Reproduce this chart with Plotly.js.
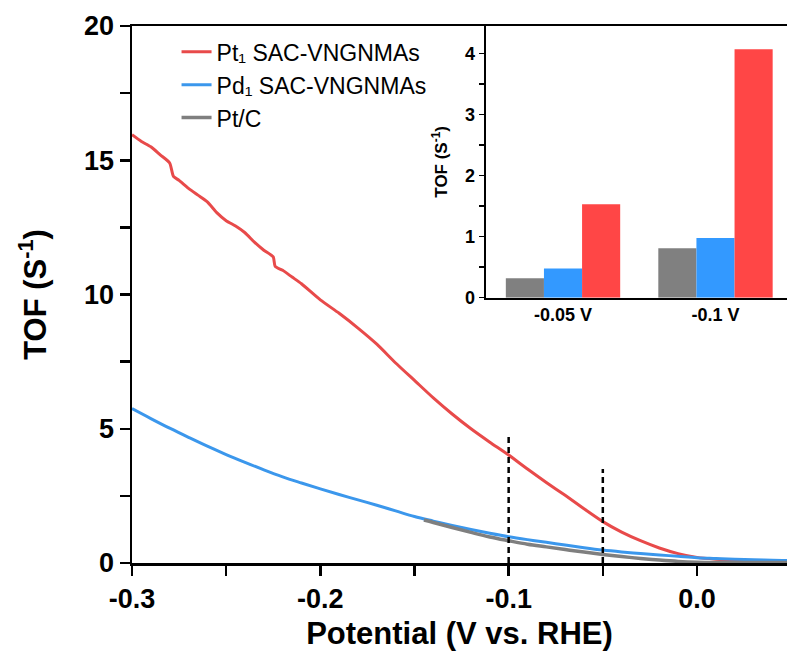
<!DOCTYPE html>
<html>
<head>
<meta charset="utf-8">
<script src="https://cdn.plot.ly/plotly-3.0.1.min.js"></script>
<style>html,body{margin:0;padding:0;background:#fff;}#chart{width:787px;height:657px;}</style>
</head>
<body>
<div id="chart"></div>
<script>
// ---- Data ----
const seriesNames = ["Pt\u2081 SAC-VNGNMAs", "Pd\u2081 SAC-VNGNMAs", "Pt/C"];

const ptSacV = [-0.300,-0.295,-0.290,-0.285,-0.280,-0.278,-0.275,-0.270,-0.265,-0.260,-0.255,-0.250,-0.245,-0.240,-0.235,-0.230,-0.225,-0.224,-0.220,-0.215,-0.210,-0.200,-0.190,-0.180,-0.170,-0.160,-0.150,-0.140,-0.130,-0.120,-0.110,-0.100,-0.090,-0.080,-0.070,-0.060,-0.050,-0.040,-0.030,-0.020,-0.010,0.000,0.010,0.020,0.030,0.040,0.050];
const ptSacTOF = [15.95,15.70,15.50,15.20,14.90,14.40,14.25,13.95,13.70,13.45,13.05,12.75,12.55,12.30,11.95,11.65,11.40,11.05,10.90,10.65,10.40,9.80,9.30,8.75,8.15,7.45,6.80,6.15,5.55,5.00,4.50,4.02,3.50,3.00,2.52,2.02,1.54,1.15,0.83,0.56,0.35,0.21,0.14,0.10,0.08,0.06,0.05];

const pdSacV = [-0.30,-0.29,-0.28,-0.27,-0.26,-0.25,-0.24,-0.23,-0.22,-0.21,-0.20,-0.19,-0.18,-0.17,-0.16,-0.15,-0.14,-0.13,-0.12,-0.11,-0.10,-0.09,-0.08,-0.07,-0.06,-0.05,-0.04,-0.03,-0.02,-0.01,0.00,0.01,0.02,0.03,0.04,0.05];
const pdSacTOF = [5.75,5.38,5.02,4.68,4.35,4.04,3.75,3.47,3.21,2.98,2.76,2.55,2.35,2.15,1.94,1.73,1.56,1.40,1.25,1.11,0.98,0.87,0.77,0.67,0.57,0.48,0.41,0.35,0.30,0.25,0.20,0.17,0.14,0.12,0.10,0.09];

const ptcV = [-0.145,-0.14,-0.13,-0.12,-0.11,-0.10,-0.09,-0.08,-0.07,-0.06,-0.05,-0.04,-0.03,-0.02,-0.01,0.00,0.01,0.02,0.03,0.04,0.05];
const ptcTOF = [1.60,1.51,1.32,1.14,0.97,0.83,0.70,0.60,0.50,0.41,0.32,0.24,0.17,0.11,0.06,0.03,0.02,0.02,0.02,0.02,0.02];

// dashed guide lines
const guideV = [-0.10, -0.05];
const guideTop = [4.77, 3.50];

// inset bars
const insetCats = ["-0.05 V", "-0.1 V"];
const insetPtC = [0.32, 0.81];
const insetPd = [0.48, 0.98];
const insetPt = [1.53, 4.07];

// tick labels
const xTickVals = [-0.30,-0.25,-0.20,-0.15,-0.10,-0.05,0.00,0.05];
const xTickText = ["-0.3","","-0.2","","-0.1","","0.0",""];
const yTickVals = [0,2.5,5,7.5,10,12.5,15,17.5,20];
const yTickText = ["0","","5","","10","","15","","20"];
const y2TickVals = [0,0.5,1,1.5,2,2.5,3,3.5,4];
const y2TickText = ["0","","1","","2","","3","","4"];

// ---- Styling ----
const RED = "#e84a4a", BLUE = "#3b97ec", GRAY = "#7f7f7f";
const BAR_RED = "#ff4646", BAR_BLUE = "#3399ff", BAR_GRAY = "#808080";
const FONT = "Liberation Sans, Arial, sans-serif";

const traces = [
  {x: ptSacV, y: ptSacTOF, name: seriesNames[0], type: "scatter", mode: "lines", line: {color: RED, width: 3, shape: "spline", smoothing: 0.6}},
  {x: pdSacV, y: pdSacTOF, name: seriesNames[1], type: "scatter", mode: "lines", line: {color: BLUE, width: 3, shape: "spline", smoothing: 1}},
  {x: ptcV, y: ptcTOF, name: seriesNames[2], type: "scatter", mode: "lines", line: {color: GRAY, width: 3.5, shape: "spline", smoothing: 1}},
];
guideV.forEach((v, i) => {
  traces.push({x: [v, v], y: [0, guideTop[i]], type: "scatter", mode: "lines", showlegend: false,
    line: {color: "#000", width: 2.5, dash: "6px,4px"}, hoverinfo: "skip"});
});
traces.push({x: insetCats, y: insetPtC, type: "bar", xaxis: "x2", yaxis: "y2", marker: {color: BAR_GRAY}, showlegend: false});
traces.push({x: insetCats, y: insetPd, type: "bar", xaxis: "x2", yaxis: "y2", marker: {color: BAR_BLUE}, showlegend: false});
traces.push({x: insetCats, y: insetPt, type: "bar", xaxis: "x2", yaxis: "y2", marker: {color: BAR_RED}, showlegend: false});

const layout = {
  width: 787, height: 657,
  margin: {l: 132, r: 0, t: 26, b: 94},
  paper_bgcolor: "#fff", plot_bgcolor: "rgba(0,0,0,0)",
  font: {family: FONT, color: "#000"},
  showlegend: true,
  legend: {x: 0.068, y: 0.992, xanchor: "left", yanchor: "top", bgcolor: "rgba(0,0,0,0)",
    font: {family: FONT, size: 23, color: "#000"}, tracegroupgap: 0},
  barmode: "group", bargap: 0.25, bargroupgap: 0,
  xaxis: {
    range: [-0.3, 0.0478], showgrid: false, zeroline: false,
    showline: true, linewidth: 2.5, linecolor: "#000", mirror: true,
    ticks: "outside", ticklen: 10, tickwidth: 2.5, tickcolor: "#000",
    tickmode: "array", tickvals: xTickVals, ticktext: xTickText,
    tickfont: {family: FONT, size: 27, weight: "bold"},
    title: {text: "Potential (V vs. RHE)", font: {family: FONT, size: 31, weight: "bold"}, standoff: 10}
  },
  yaxis: {
    range: [0, 20], showgrid: false, zeroline: false,
    showline: true, linewidth: 2.5, linecolor: "#000",
    ticks: "outside", ticklen: 10, tickwidth: 2.5, tickcolor: "#000",
    tickmode: "array", tickvals: yTickVals, ticktext: yTickText,
    tickfont: {family: FONT, size: 27, weight: "bold"},
    title: {text: "TOF (S<sup>-1</sup>)", font: {family: FONT, size: 31, weight: "bold"}, standoff: 28}
  },
  xaxis2: {
    domain: [0.54, 1], anchor: "y2", range: [-0.507, 1.469], type: "category",
    showgrid: false, zeroline: false, showline: true, linewidth: 2, linecolor: "#000",
    ticks: "", tickfont: {family: FONT, size: 18, weight: "bold"}
  },
  yaxis2: {
    domain: [0.494, 1], anchor: "x2", range: [0, 4.45],
    showgrid: false, zeroline: false, showline: true, linewidth: 2, linecolor: "#000",
    ticks: "outside", ticklen: 5, tickwidth: 1.5, tickcolor: "#000",
    tickmode: "array", tickvals: y2TickVals, ticktext: y2TickText,
    tickfont: {family: FONT, size: 18, weight: "bold"},
    title: {text: "TOF (S<sup>-1</sup>)", font: {family: FONT, size: 17, weight: "bold"}, standoff: 13}
  }
};

Plotly.newPlot("chart", traces, layout, {staticPlot: true, displayModeBar: false});
</script>
</body>
</html>
